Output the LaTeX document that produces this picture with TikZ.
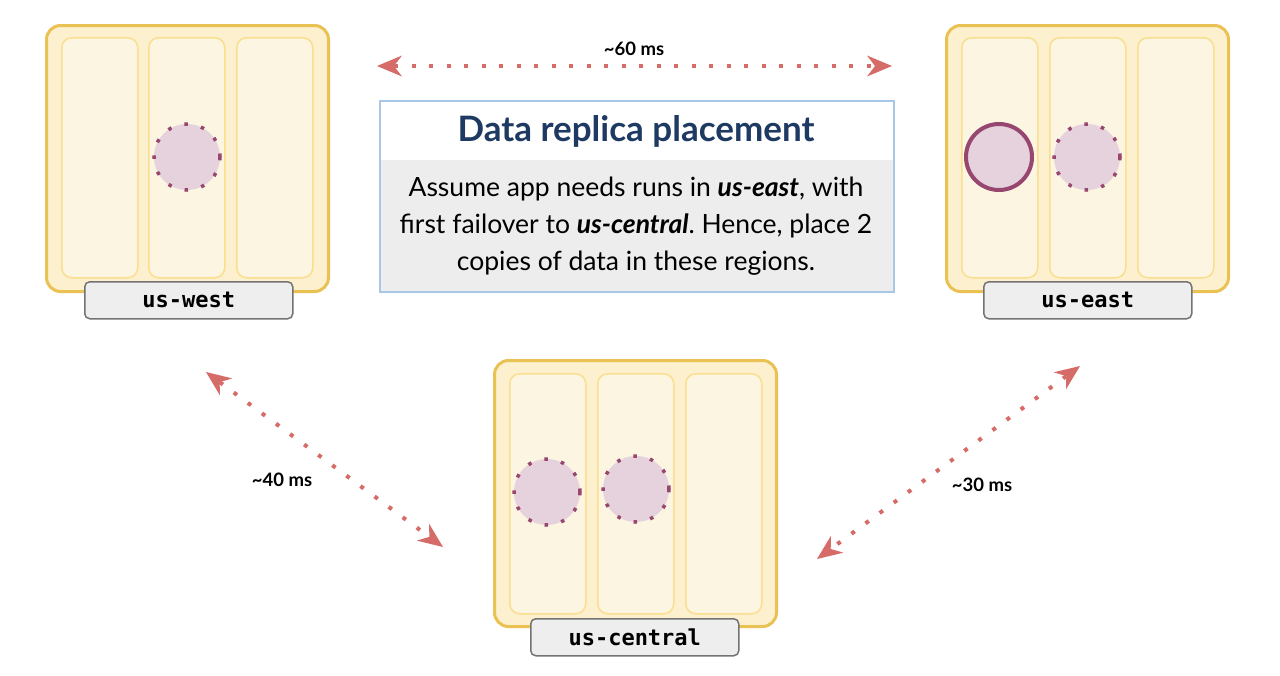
\documentclass[tikz,border=0pt]{standalone}
\usepackage{fontspec}
\setmainfont{Lato}
\newfontfamily\labelmono{DejaVu Sans Mono}
\usetikzlibrary{arrows.meta}
\frenchspacing
\definecolor{regfill}{HTML}{FCF0CE}
\definecolor{regborder}{HTML}{E9C253}
\definecolor{zonefill}{HTML}{FCF5E1}
\definecolor{zoneborder}{HTML}{F9DF8E}
\definecolor{repfill}{HTML}{E5D2DC}
\definecolor{repborder}{HTML}{96466F}
\definecolor{lblfill}{HTML}{EEEEEE}
\definecolor{lblborder}{HTML}{737373}
\definecolor{titlecol}{HTML}{1E3A63}
\definecolor{boxborder}{HTML}{A8C6E6}
\definecolor{bodyfill}{HTML}{EDEDED}
\definecolor{latred}{HTML}{D56C68}
\tikzset{
  region/.style={rounded corners=14pt, fill=regfill, draw=regborder, line width=3pt, anchor=north west, minimum width=282pt, minimum height=266pt, inner sep=0pt},
  zone/.style={rounded corners=10pt, fill=zonefill, draw=zoneborder, line width=1.5pt, anchor=north west, minimum width=76pt, minimum height=240pt, inner sep=0pt},
  lbl/.style={rounded corners=5pt, fill=lblfill, draw=lblborder, line width=1.5pt, anchor=north west, minimum width=208pt, minimum height=37pt, inner sep=0pt},
  lbltext/.style={font=\labelmono\bfseries\fontsize{22}{24}\selectfont, inner sep=0pt},
  replica/.style={circle, fill=repfill, draw=repborder, line width=3.5pt, dash pattern=on 3.5pt off 13.5pt, minimum size=66pt, inner sep=0pt},
  primary/.style={circle, fill=repfill, draw=repborder, line width=4pt, minimum size=66pt, inner sep=0pt},
  lat/.style={draw=latred, line width=4pt, dash pattern=on 4pt off 13.5pt,
    {Stealth[length=25pt, width=21pt, inset=8pt, line width=0pt]}-{Stealth[length=25pt, width=21pt, inset=8pt, line width=0pt]}},
  lattext/.style={font=\bfseries\fontsize{18.5}{20}\selectfont, inner sep=0pt},
}
\begin{document}
\begin{tikzpicture}[x=1pt,y=-1pt]
\useasboundingbox (0,0) rectangle (1280,675);
% us-west
\node[region] (west) at (45,24) {};
\node[zone] (w1) at (61,37) {};
\node[zone] (w2) at (148,37) {};
\node[zone] (w3) at (236,37) {};
\node[replica] (wr) at (187,157) {};
\node[lbl] (wl) at (84,281) {};
\node[lbltext] at (wl.center) {us-west};
% us-east
\node[region] (east) at (945,24) {};
\node[zone] (e1) at (961,37) {};
\node[zone] (e2) at (1049,37) {};
\node[zone] (e3) at (1137,37) {};
\node[primary] (ep) at (999,157) {};
\node[replica] (er) at (1087,157) {};
\node[lbl] (el) at (983,281) {};
\node[lbltext] at (el.center) {us-east};
% us-central
\node[region] (central) at (493,359) {};
\node[zone] (c1) at (509,373) {};
\node[zone] (c2) at (597,373) {};
\node[zone] (c3) at (685,373) {};
\node[replica] (cr1) at (547,492) {};
\node[replica] (cr2) at (636,489) {};
\node[lbl] (cl) at (530,618) {};
\node[lbltext] at (cl.center) {us-central};
% title box
\node[fill=white, anchor=north west, minimum width=514pt, minimum height=60pt, inner sep=0pt] (head) at (379,100) {};
\node[fill=bodyfill, anchor=north west, minimum width=514pt, minimum height=131pt, inner sep=0pt] (body) at (379,160) {};
\node[draw=boxborder, line width=1.5pt, anchor=north west, minimum width=514pt, minimum height=191pt, inner sep=0pt] (frame) at (379,100) {};
\node[font=\bfseries\fontsize{35}{40}\selectfont, text=titlecol, inner sep=0pt] (title) at (636,131) {Data replica placement};
\node[font=\fontsize{26.5}{37}\selectfont, align=center, inner sep=0pt] (desc) at (636,226)
  {Assume app needs runs in \textbf{\textit{us-east}}, with\\first failover to \textbf{\textit{us-central}}. Hence, place 2\\copies of data in these regions.};
% latency arrows
\coordinate (tl) at (377,66);
\coordinate (tr) at (892,66);
\coordinate (dl1) at (206,372);
\coordinate (dl2) at (443,547);
\coordinate (dr1) at (1080,366);
\coordinate (dr2) at (817,559);
\draw[lat] (tl) -- (tr);
\draw[lat] (dl1) -- (dl2);
\draw[lat] (dr1) -- (dr2);
\node[lattext] (l60) at (634,49) {{\char"7E}60 ms};
\node[lattext] (l40) at (282,480) {{\char"7E}40 ms};
\node[lattext] (l30) at (982,485) {{\char"7E}30 ms};
\end{tikzpicture}
\end{document}
